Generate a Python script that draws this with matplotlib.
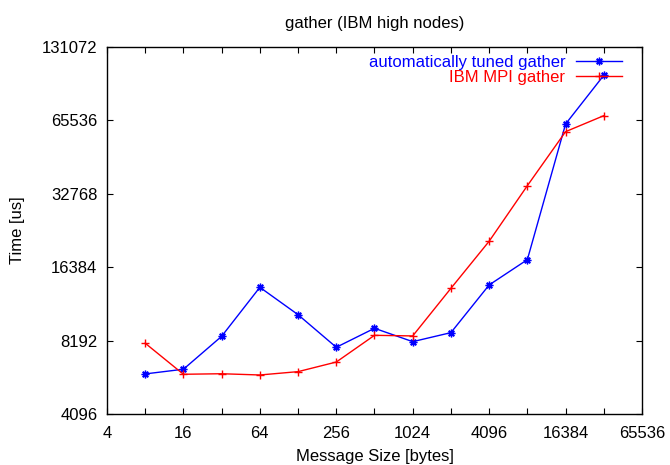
import matplotlib
matplotlib.use("Agg")
import matplotlib.pyplot as plt
from matplotlib.ticker import FixedLocator, NullFormatter

plt.rcParams['font.family'] = ['Liberation Sans', 'DejaVu Sans']

msg_sizes = [8, 16, 32, 64, 128, 256, 512, 1024, 2048, 4096, 8192, 16384, 32768]
tuned_gather = [5980, 6250, 8530, 13550, 10460, 7690, 9200, 8110, 8830, 13850, 17590, 63300, 100300]
ibm_gather = [7990, 5960, 5990, 5920, 6110, 6690, 8610, 8560, 13420, 20930, 35370, 58900, 68500]

x_labels = [4, 16, 64, 256, 1024, 4096, 16384, 65536]
x_minor = [8, 32, 128, 512, 2048, 8192, 32768]
y_ticks = [4096, 8192, 16384, 32768, 65536, 131072]

fig = plt.figure(figsize=(6.7, 4.65), dpi=100)
ax = fig.add_axes([0.1597, 0.1097, 0.7985, 0.7893])

star = (8, 2, 0)
ax.plot(msg_sizes, tuned_gather, color='#0000ff', lw=1.0, marker=star,
        ms=5.5, mew=1.0, label='automatically tuned gather')
ax.plot(msg_sizes, ibm_gather, color='#ff0000', lw=1.0, marker='+',
        ms=6, mew=1.0, label='IBM MPI gather')

ax.set_xscale('log', base=2)
ax.set_yscale('log', base=2)
ax.set_xlim(4, 65536)
ax.set_ylim(4096, 131072)

ax.xaxis.set_major_locator(FixedLocator(x_labels))
ax.xaxis.set_minor_locator(FixedLocator(x_minor))
ax.set_xticklabels([str(v) for v in x_labels])
ax.xaxis.set_minor_formatter(NullFormatter())
ax.yaxis.set_major_locator(FixedLocator(y_ticks))
ax.yaxis.set_minor_locator(FixedLocator([]))
ax.set_yticklabels([str(v) for v in y_ticks])

ax.tick_params(which='both', direction='in', length=4.5, width=0.8,
               top=True, right=True, labelsize=12, colors='black')
ax.tick_params(axis='x', pad=9)
ax.tick_params(axis='y', pad=7)
for s in ax.spines.values():
    s.set_linewidth(1.0)

ax.set_title('gather (IBM high nodes)', fontsize=12, pad=14)
ax.set_xlabel('Message Size [bytes]', fontsize=12, labelpad=5.5)
ax.set_ylabel('Time [us]', fontsize=12, labelpad=12)

leg = ax.legend(loc='upper right', bbox_to_anchor=(0.969, 0.988), frameon=False,
                fontsize=12, markerfirst=False, handlelength=2.75,
                handletextpad=0.65, borderaxespad=0.0, borderpad=0.2,
                labelspacing=0.0)
for text, line in zip(leg.get_texts(), leg.get_lines()):
    text.set_color(line.get_color())
    text.set_ha('right')

fig.savefig('out.png', dpi=100)
